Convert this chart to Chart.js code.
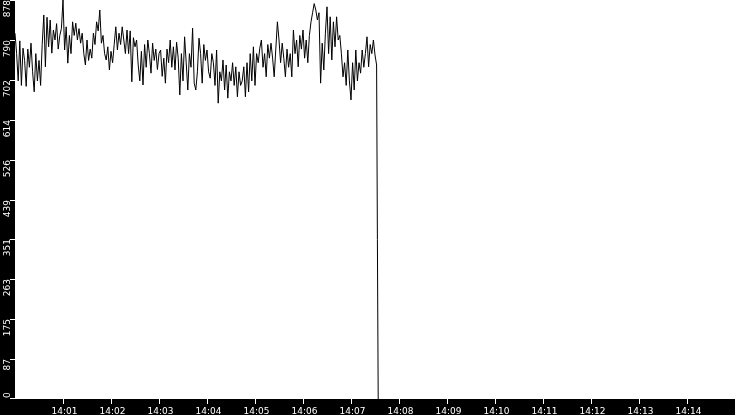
<!DOCTYPE html>
<html>
<head>
<meta charset="utf-8">
<title>Trend</title>
<script src="https://cdn.jsdelivr.net/npm/chart.js@4/dist/chart.umd.min.js"></script>
<style>
  html, body { margin: 0; padding: 0; background: #fff; }
  #wrap { width: 735px; height: 415px; }
</style>
</head>
<body>
<div id="wrap"><canvas id="trendChart" width="735" height="415"></canvas></div>
<script>
// samples every 2 s starting at 14:00:00 (seconds since 14:00)
const sampleStep = 2;
const values = [
  805, 760, 700, 788, 690, 772, 745, 688, 770, 730,
  783, 720, 676, 760, 700, 745, 690, 780, 845, 731,
  840, 775, 834, 761, 812, 790, 826, 770, 800, 815,
  878, 768, 819, 739, 800, 760, 830, 800, 827, 790,
  815, 783, 805, 760, 735, 790, 745, 770, 750, 805,
  780, 830, 810, 856, 783, 800, 760, 746, 775, 724,
  765, 740, 780, 819, 768, 805, 780, 819, 790, 760,
  812, 760, 810, 698, 795, 775, 790, 735, 700, 765,
  691, 780, 730, 790, 760, 717, 783, 745, 770, 725,
  760, 768, 710, 750, 695, 770, 740, 790, 730, 775,
  724, 785, 750, 669, 760, 700, 797, 740, 680, 760,
  730, 816, 695, 680, 720, 794, 760, 695, 780, 745,
  768, 720, 706, 760, 740, 690, 768, 651, 720, 700,
  746, 680, 735, 662, 720, 700, 740, 690, 731, 665,
  720, 690, 700, 731, 665, 740, 676, 760, 700, 775,
  690, 760, 740, 772, 790, 730, 760, 709, 780, 750,
  783, 750, 709, 770, 830, 790, 740, 783, 750, 709,
  770, 730, 760, 709, 812, 760, 790, 731, 800, 770,
  812, 750, 790, 740, 800, 830, 850, 870, 856, 834,
  850, 695, 783, 724, 805, 863, 760, 841, 746, 830,
  775, 841, 790, 800, 760, 709, 740, 690, 768, 700,
  658, 740, 680, 768, 700, 740, 717, 768, 730, 760,
  797, 731, 780, 760, 790, 757, 735
];
// the signal drops out at the end
const dropTimes = [453, 454];
const dropValues = [351, 0];

const xMin = 0, xMax = 900;          // 14:00 .. 14:15
const yMin = 0, yMax = 878;
const xTickSeconds = [60, 120, 180, 240, 300, 360, 420, 480, 540, 600, 660, 720, 780, 840];
const xTickLabels = ['14:01', '14:02', '14:03', '14:04', '14:05', '14:06', '14:07',
                     '14:08', '14:09', '14:10', '14:11', '14:12', '14:13', '14:14'];
const yTickValues = [0, 87.8, 175.6, 263.4, 351.2, 439, 526.8, 614.6, 702.4, 790.2, 878];
const yTickLabels = ['0', '87', '175', '263', '351', '439', '526', '614', '702', '790', '878'];

const points = values.map((v, i) => ({ x: i * sampleStep, y: v }))
  .concat(dropTimes.map((t, i) => ({ x: t, y: dropValues[i] })));

const FONT = '9px "DejaVu Sans"';

// black axis bands with white ticks and labels
const blackAxes = {
  id: 'blackAxes',
  beforeDraw(chart) {
    const { ctx, chartArea: a, width, height } = chart;
    ctx.save();
    ctx.fillStyle = '#fff';
    ctx.fillRect(0, 0, width, height);
    ctx.fillStyle = '#000';
    ctx.fillRect(0, 0, a.left, height);
    ctx.fillRect(0, a.bottom, width, height - a.bottom);
    ctx.restore();
  },
  afterDraw(chart) {
    const { ctx, chartArea: a, scales } = chart;
    ctx.save();
    ctx.strokeStyle = '#fff';
    ctx.fillStyle = '#fff';
    ctx.lineWidth = 1;
    ctx.font = FONT;

    yTickValues.forEach((v, i) => {
      const py = Math.round(scales.y.getPixelForValue(v));
      const ly = Math.min(py, a.bottom - 1) + 0.5;
      ctx.beginPath();
      ctx.moveTo(a.left - 5, ly);
      ctx.lineTo(a.left, ly);
      ctx.stroke();
      ctx.save();
      ctx.translate(9.5, Math.min(py, a.bottom));
      ctx.rotate(-Math.PI / 2);
      ctx.textAlign = i === 0 ? 'left' : 'right';
      ctx.textBaseline = 'alphabetic';
      ctx.fillText(yTickLabels[i], i === 0 ? 1 : 0, 0);
      ctx.restore();
    });

    xTickSeconds.forEach((s, i) => {
      const px = Math.round(scales.x.getPixelForValue(s)) + 0.5;
      ctx.beginPath();
      ctx.moveTo(px, a.bottom);
      ctx.lineTo(px, a.bottom + 5);
      ctx.stroke();
      ctx.textAlign = 'center';
      ctx.textBaseline = 'alphabetic';
      ctx.fillText(xTickLabels[i], px + 1, 413.5);
    });
    ctx.restore();
  }
};

new Chart(document.getElementById('trendChart'), {
  type: 'line',
  data: {
    datasets: [{
      data: points,
      borderColor: '#000',
      borderWidth: 1,
      pointRadius: 0,
      tension: 0,
      fill: false
    }]
  },
  options: {
    responsive: false,
    animation: false,
    devicePixelRatio: 1,
    layout: { padding: { left: 15, bottom: 16, top: 0, right: 0 } },
    scales: {
      x: { type: 'linear', min: xMin, max: xMax, display: false },
      y: { type: 'linear', min: yMin, max: yMax, display: false }
    },
    plugins: {
      legend: { display: false },
      tooltip: { enabled: false }
    }
  },
  plugins: [blackAxes]
});
</script>
</body>
</html>
